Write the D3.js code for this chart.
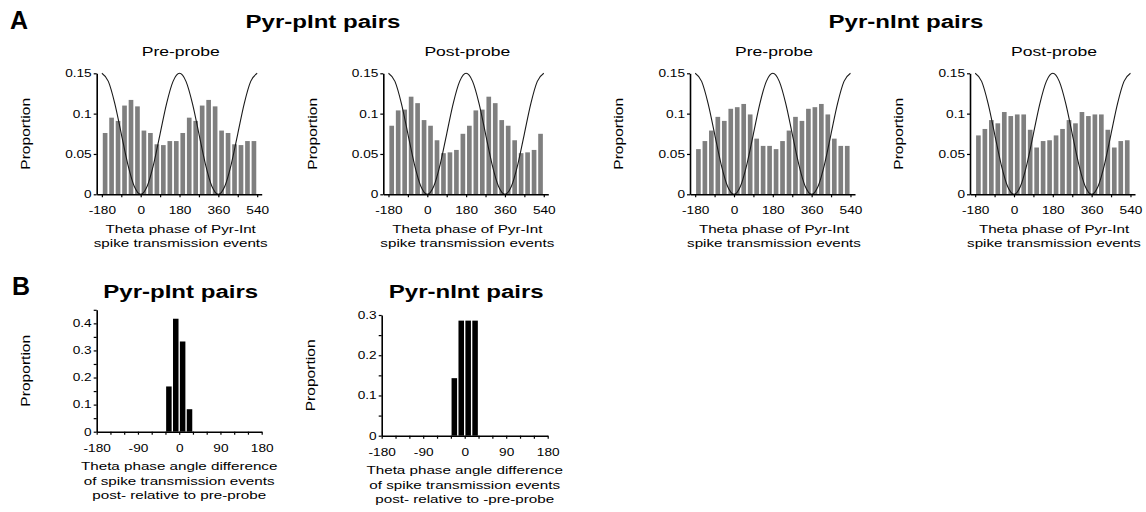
<!DOCTYPE html>
<html>
<head>
<meta charset="utf-8">
<script src="https://cdn.jsdelivr.net/npm/d3@7"></script>
<style>
  body { margin: 0; background: #fff; }
  svg { display: block; font-family: "Liberation Sans", Arial, sans-serif; }
</style>
</head>
<body>
<svg id="canvas"></svg>
<script>
let width = 1146
let height = 512
let SX = 1.3 // the figure's lettering is wider than plain Arial

// top row: 30 deg phase bins over two theta cycles
let phaseBins = [-165, -135, -105, -75, -45, -15, 15, 45, 75, 105, 135, 165,
                 195, 225, 255, 285, 315, 345, 375, 405, 435, 465, 495, 525]
let phaseTicks = [-180, -90, 0, 90, 180, 270, 360, 450, 540]

let pIntPre  = [0.076, 0.095, 0.091, 0.110, 0.117, 0.109, 0.079, 0.076, 0.062, 0.061, 0.066, 0.066,
                0.076, 0.095, 0.091, 0.110, 0.117, 0.109, 0.079, 0.076, 0.062, 0.061, 0.066, 0.066]
let pIntPost = [0.085, 0.104, 0.105, 0.121, 0.113, 0.092, 0.085, 0.067, 0.051, 0.052, 0.055, 0.075,
                0.085, 0.104, 0.105, 0.121, 0.113, 0.092, 0.085, 0.067, 0.051, 0.052, 0.055, 0.075]
let nIntPre  = [0.056, 0.066, 0.079, 0.096, 0.091, 0.106, 0.108, 0.112, 0.099, 0.069, 0.060, 0.060,
                0.056, 0.066, 0.079, 0.096, 0.091, 0.106, 0.108, 0.112, 0.099, 0.069, 0.060, 0.060]
let nIntPost = [0.073, 0.081, 0.092, 0.088, 0.102, 0.097, 0.099, 0.099, 0.080, 0.058, 0.066, 0.067,
                0.073, 0.081, 0.092, 0.088, 0.102, 0.097, 0.099, 0.099, 0.080, 0.058, 0.066, 0.067]

// reference theta wave
let thetaPhase = [-180, -150, -120, -90, -60, -30, 0, 30, 60, 90, 120, 150, 180,
                  210, 240, 270, 300, 330, 360, 390, 420, 450, 480, 510, 540]
let thetaWave  = [0.15, 0.140, 0.1125, 0.075, 0.0375, 0.010, 0, 0.010, 0.0375, 0.075, 0.1125, 0.140, 0.15,
                  0.140, 0.1125, 0.075, 0.0375, 0.010, 0, 0.010, 0.0375, 0.075, 0.1125, 0.140, 0.15]
let topYTicks = [0, 0.05, 0.1, 0.15]

// bottom row: phase difference post vs pre, 15 deg bins
let diffBins = [-22.5, -7.5, 7.5, 22.5]
let pIntDiff = [0.167, 0.417, 0.333, 0.083]
let nIntDiff = [0.143, 0.286, 0.286, 0.286]
let diffTicks = [-180, -150, -120, -90, -60, -30, 0, 30, 60, 90, 120, 150, 180]
let pIntDiffYTicks = [0, 0.05, 0.1, 0.15, 0.2, 0.25, 0.3, 0.35, 0.4, 0.45]
let nIntDiffYTicks = [0, 0.05, 0.1, 0.15, 0.2, 0.25, 0.3]

let canvas = d3.select('#canvas')
               .attr('width', width)
               .attr('height', height)

let addText = (g, x, y, str, size, opts = {}) => {
  let sx = opts.sx || SX
  g.append('text')
   .attr('transform', `translate(${x},${y})` + (opts.rotate ? ' rotate(-90)' : '') + ` scale(${sx},1)`)
   .attr('text-anchor', opts.anchor || 'middle')
   .style('font-size', size + 'px')
   .style('font-weight', opts.bold ? 'bold' : 'normal')
   .attr('fill', '#000')
   .text(str)
}

// widen the tick labels the same way as the rest of the text
let styleAxis = (axisG, fontSize) => {
  axisG.attr('font-family', null).attr('font-size', null)
  axisG.select('.domain').attr('stroke-width', 1.6).attr('stroke', '#000')
  axisG.selectAll('.tick line').attr('stroke-width', 1.2).attr('stroke', '#000')
  axisG.selectAll('.tick text')
       .style('font-size', fontSize + 'px')
       .attr('fill', '#000')
       .each(function () {
         let t = d3.select(this)
         let x = +t.attr('x') || 0
         t.attr('x', x / SX).attr('transform', `scale(${SX},1)`)
       })
}

let drawPhasePanel = (x0, subtitle, values) => {
  let g = canvas.append('g').attr('transform', `translate(${x0},0)`)

  let xScale = d3.scaleLinear().domain([-204, 561]).range([0, 165])
  let yScale = d3.scaleLinear().domain([0, 0.15]).range([194.3, 73.3])
  let binW = xScale(30) - xScale(0)

  g.selectAll('rect')
   .data(values)
   .enter()
   .append('rect')
   .attr('x', (d, i) => xScale(phaseBins[i]) - binW * 0.36)
   .attr('width', binW * 0.72)
   .attr('y', (d) => yScale(d))
   .attr('height', (d) => yScale(0) - yScale(d))
   .attr('fill', '#7f7f7f')

  let wave = d3.line()
               .x((d, i) => xScale(thetaPhase[i]))
               .y((d) => yScale(d))
               .curve(d3.curveMonotoneX)

  g.append('path')
   .datum(thetaWave)
   .attr('d', wave)
   .attr('fill', 'none')
   .attr('stroke', '#1a1a1a')
   .attr('stroke-width', 1.1)

  let xAxis = d3.axisBottom(xScale)
                .tickValues(phaseTicks)
                .tickFormat((d) => d % 180 === 0 ? d : '')
                .tickSizeInner(3).tickSizeOuter(0).tickPadding(9.5)
  let yAxis = d3.axisLeft(yScale)
                .tickValues(topYTicks)
                .tickFormat((d) => d)
                .tickSizeInner(3).tickSizeOuter(0).tickPadding(2)

  styleAxis(g.append('g').attr('transform', `translate(0, ${yScale(0)})`).call(xAxis), 10.5)
  styleAxis(g.append('g').call(yAxis), 10.5)

  addText(g, 84, 55.5, subtitle, 13.5)
  addText(g, -66.7, 133.8, 'Proportion', 12, { rotate: true })
  addText(g, 84, yScale(0) + 38.5, 'Theta phase of Pyr-Int', 11.7)
  addText(g, 84, yScale(0) + 53, 'spike transmission events', 11.7)
}

let drawDiffPanel = (x0, axisW, y0, yTopPx, yMax, yTicks, title, values, lastLine) => {
  let g = canvas.append('g').attr('transform', `translate(${x0},0)`)

  let xScale = d3.scaleLinear().domain([-180, 180]).range([0, axisW])
  let yScale = d3.scaleLinear().domain([0, yMax]).range([y0, yTopPx])
  let binW = xScale(15) - xScale(0)

  g.selectAll('rect')
   .data(values)
   .enter()
   .append('rect')
   .attr('x', (d, i) => xScale(diffBins[i]) - binW * 0.4)
   .attr('width', binW * 0.8)
   .attr('y', (d) => yScale(d))
   .attr('height', (d) => yScale(0) - yScale(d))
   .attr('fill', '#000')

  let xAxis = d3.axisBottom(xScale)
                .tickValues(diffTicks)
                .tickFormat((d) => d % 90 === 0 ? d : '')
                .tickSizeInner(3).tickSizeOuter(0).tickPadding(9.5)
  let yAxis = d3.axisLeft(yScale)
                .tickValues(yTicks)
                .tickFormat((d) => Math.round(d * 100) % 10 === 0 ? d : '')
                .tickSizeInner(3).tickSizeOuter(0).tickPadding(2)

  styleAxis(g.append('g').attr('transform', `translate(0, ${y0})`).call(xAxis), 10.5)
  styleAxis(g.append('g').call(yAxis), 10.5)

  addText(g, axisW / 2 + 1.5, 298.3, title, 18.5, { bold: true })
  addText(g, -66.7, (y0 + yTopPx) / 2, 'Proportion', 12, { rotate: true })
  addText(g, axisW / 2, y0 + 38.5, 'Theta phase angle difference', 11.7)
  addText(g, axisW / 2, y0 + 53, 'of spike transmission events', 11.7)
  addText(g, axisW / 2, y0 + 67.5, lastLine, 11.7)
}

// panel letters and group titles
addText(canvas, 10, 29, 'A', 26, { bold: true, anchor: 'start', sx: 0.96 })
addText(canvas, 12, 295, 'B', 26, { bold: true, anchor: 'start', sx: 0.96 })
addText(canvas, 323, 28, 'Pyr-pInt pairs', 18.5, { bold: true })
addText(canvas, 906, 28, 'Pyr-nInt pairs', 18.5, { bold: true })

drawPhasePanel(96.7, 'Pre-probe', pIntPre)
drawPhasePanel(383.3, 'Post-probe', pIntPost)
drawPhasePanel(690, 'Pre-probe', nIntPre)
drawPhasePanel(970, 'Post-probe', nIntPost)

drawDiffPanel(96.7, 165, 431.7, 309.8, 0.45, pIntDiffYTicks, 'Pyr-pInt pairs', pIntDiff,
              'post- relative to pre-probe')
drawDiffPanel(381.7, 166, 435.7, 315, 0.3, nIntDiffYTicks, 'Pyr-nInt pairs', nIntDiff,
              'post- relative to -pre-probe')
</script>
</body>
</html>
